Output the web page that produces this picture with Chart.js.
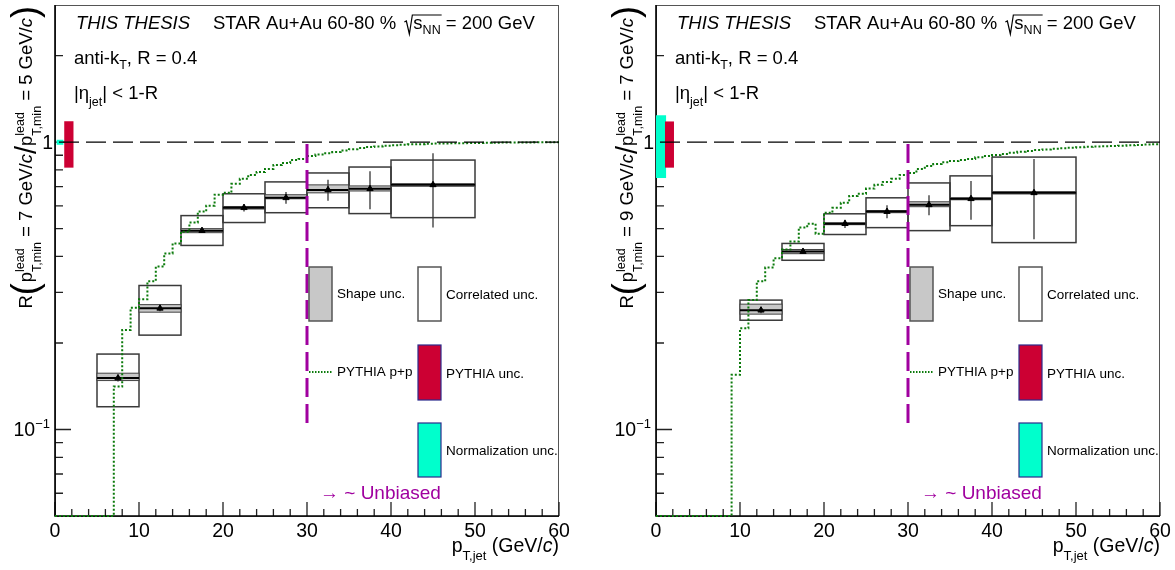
<!DOCTYPE html>
<html>
<head>
<meta charset="utf-8">
<script src="https://cdn.jsdelivr.net/npm/chart.js@4.4.0/dist/chart.umd.min.js"></script>
<style>
  html, body { margin: 0; padding: 0; background: #fff; }
  #wrap { position: relative; width: 1175px; height: 570px; }
  .panel { position: absolute; top: 0; height: 570px; }
</style>
</head>
<body>
<div id="wrap">
  <div class="panel" style="left:0;width:587px"><canvas id="c75" width="587" height="570"></canvas></div>
  <div class="panel" style="left:587px;width:588px"><canvas id="c97" width="588" height="570"></canvas></div>
</div>
<script>
// ---- jet pT bins (GeV/c) ----
const binLow  = [5, 10, 15, 20, 25, 30, 35, 40];
const binHigh = [10, 15, 20, 25, 30, 35, 40, 50];

// ---- R(7 GeV/c / 5 GeV/c) ----
const ratio75   = [0.151, 0.264, 0.492, 0.591, 0.640, 0.682, 0.688, 0.710];
const stat75    = [0.004, 0.006, 0.008, 0.018, 0.030, 0.057, 0.104, 0.205];
const shapeLo75 = [0.148, 0.256, 0.484, 0.585, 0.635, 0.666, 0.676, 0.702];
const shapeHi75 = [0.157, 0.272, 0.500, 0.597, 0.656, 0.710, 0.704, 0.716];
const corrLo75  = [0.120, 0.213, 0.437, 0.525, 0.568, 0.591, 0.564, 0.546];
const corrHi75  = [0.183, 0.317, 0.555, 0.661, 0.727, 0.781, 0.819, 0.866];
const normBand75   = [0.979, 1.019];
const pythiaBand75 = [0.815, 1.182];

// ---- R(9 GeV/c / 7 GeV/c) ----
const ratio97   = [null, 0.260, 0.416, 0.520, 0.573, 0.605, 0.635, 0.666];
const stat97    = [null, 0.006, 0.008, 0.017, 0.030, 0.048, 0.098, 0.207];
const shapeLo97 = [null, 0.252, 0.409, 0.516, 0.568, 0.596, 0.630, 0.660];
const shapeHi97 = [null, 0.273, 0.423, 0.524, 0.578, 0.620, 0.640, 0.672];
const corrLo97  = [null, 0.240, 0.388, 0.477, 0.504, 0.492, 0.512, 0.447];
const corrHi97  = [null, 0.282, 0.444, 0.563, 0.640, 0.721, 0.763, 0.887];
const normBand97   = [0.75, 1.24];
const pythiaBand97 = [0.815, 1.18];

// ---- PYTHIA p+p, 1 GeV/c bins from 0 to 60 ----
const pythia75 = [
  0, 0, 0, 0, 0, 0, 0, 0.141, 0.222, 0.265,
  0.284, 0.328, 0.369, 0.410, 0.444, 0.488, 0.525, 0.573, 0.601, 0.656,
  0.666, 0.716, 0.745, 0.769, 0.787, 0.807, 0.833, 0.846, 0.866, 0.873,
  0.895, 0.905, 0.915, 0.923, 0.935, 0.945, 0.953, 0.961, 0.966, 0.972,
  0.976, 0.980, 0.983, 0.984, 0.986, 0.988, 0.989, 0.990, 0.991, 0.992,
  0.993, 0.994, 0.995, 0.996, 0.996, 0.997, 0.997, 0.998, 0.998, 0.999
];
const pythia97 = [
  0, 0, 0, 0, 0, 0, 0, 0, 0, 0.155,
  0.225, 0.282, 0.328, 0.366, 0.394, 0.423, 0.451, 0.505, 0.520, 0.480,
  0.568, 0.591, 0.615, 0.650, 0.661, 0.689, 0.710, 0.727, 0.745, 0.769,
  0.781, 0.807, 0.825, 0.839, 0.851, 0.860, 0.867, 0.873, 0.885, 0.895,
  0.902, 0.910, 0.918, 0.925, 0.932, 0.938, 0.943, 0.948, 0.952, 0.956,
  0.960, 0.963, 0.966, 0.968, 0.970, 0.972, 0.975, 0.978, 0.981, 0.984
];

// ---- axes ----
const X_MIN = 0, X_MAX = 60;
const Y_MIN = 0.05, Y_MAX = 3;
const xMajorTicks = [0, 10, 20, 30, 40, 50, 60];
const yMajorTicks = [0.1, 1];
const yMinorTicks = [0.06, 0.07, 0.08, 0.09, 0.2, 0.3, 0.4, 0.5, 0.6, 0.7, 0.8, 0.9, 2];
const unbiasedFrom = 30;

const FONT = '"Liberation Sans", Arial, Helvetica, sans-serif';
const GREEN = '#0b7a0b';
const MAGENTA = '#a0009f';

function setFont(ctx, size, italic) {
  ctx.font = (italic ? 'italic ' : '') + size + 'px ' + FONT;
}
function segWidth(ctx, s) {
  if (s.stack) {
    setFont(ctx, s.size);
    return Math.max(...s.stack.map(t => ctx.measureText(t).width));
  }
  setFont(ctx, s.size, s.italic);
  return ctx.measureText(s.t).width;
}
function segsWidth(ctx, segs) {
  return segs.reduce((w, s) => w + segWidth(ctx, s) + (s.gap || 0), 0);
}
function drawSegs(ctx, x, y, segs) {
  for (const s of segs) {
    if (s.stack) {
      setFont(ctx, s.size);
      ctx.fillText(s.stack[0], x, y + s.up);
      ctx.fillText(s.stack[1], x, y + s.down);
    } else {
      setFont(ctx, s.size, s.italic);
      ctx.fillText(s.t, x, y + (s.dy || 0));
    }
    x += segWidth(ctx, s) + (s.gap || 0);
  }
  return x;
}

// histogram bins -> stepped line points (one point per lower edge, plus the last upper edge)
function stepPoints(values) {
  const pts = values.map((v, i) => ({ x: X_MIN + i, y: Math.max(v, Y_MIN) }));
  pts.push({ x: X_MAX, y: Math.max(values[values.length - 1], Y_MIN) });
  return pts;
}

function buildPanel(canvasId, p) {
  const points = [];
  p.ratio.forEach((v, i) => {
    if (v !== null) points.push({ x: (binLow[i] + binHigh[i]) / 2, y: v });
  });

  const rootStyle = {
    id: 'rootStyle',
    beforeDatasetsDraw(chart) {
      const ctx = chart.ctx, xs = chart.scales.x, ys = chart.scales.y;
      const ca = chart.chartArea;
      ctx.save();
      // frame
      ctx.strokeStyle = '#555'; ctx.lineWidth = 1;
      ctx.strokeRect(ca.left + 0.5, ca.top + 0.5, ca.right - ca.left - 1, ca.bottom - ca.top);
      // ticks (pointing inwards)
      ctx.strokeStyle = '#222'; ctx.lineWidth = 1.3;
      ctx.beginPath();
      for (let v = X_MIN; v <= X_MAX; v += 2) {
        const x = xs.getPixelForValue(v);
        const len = xMajorTicks.includes(v) ? 14 : 7;
        ctx.moveTo(x, ca.bottom); ctx.lineTo(x, ca.bottom - len);
      }
      for (const v of yMajorTicks) {
        const y = ys.getPixelForValue(v);
        ctx.moveTo(ca.left, y); ctx.lineTo(ca.left + 16, y);
      }
      for (const v of yMinorTicks) {
        const y = ys.getPixelForValue(v);
        ctx.moveTo(ca.left, y); ctx.lineTo(ca.left + 8, y);
      }
      ctx.stroke();
      // axis lines
      ctx.strokeStyle = '#000'; ctx.lineWidth = 1.6;
      ctx.beginPath();
      ctx.moveTo(ca.left, ca.top); ctx.lineTo(ca.left, ca.bottom); ctx.lineTo(ca.right, ca.bottom);
      ctx.stroke();

      for (let i = 0; i < binLow.length; i++) {
        if (p.ratio[i] === null) continue;
        const x0 = xs.getPixelForValue(binLow[i]);
        const x1 = xs.getPixelForValue(binHigh[i]);
        // correlated uncertainty box
        const cy0 = ys.getPixelForValue(p.corrHi[i]);
        const cy1 = ys.getPixelForValue(p.corrLo[i]);
        ctx.strokeStyle = '#3a3a3a';
        ctx.lineWidth = 1.5;
        ctx.strokeRect(x0, cy0, x1 - x0, cy1 - cy0);
        // shape uncertainty band
        const sy0 = ys.getPixelForValue(p.shapeHi[i]);
        const sy1 = ys.getPixelForValue(p.shapeLo[i]);
        ctx.fillStyle = '#c8c8c8';
        ctx.fillRect(x0, sy0, x1 - x0, sy1 - sy0);
        ctx.strokeStyle = '#444';
        ctx.lineWidth = 1;
        ctx.strokeRect(x0, sy0, x1 - x0, sy1 - sy0);
        // bin width at the central value
        const yc = ys.getPixelForValue(p.ratio[i]);
        ctx.strokeStyle = '#000';
        ctx.lineWidth = 2;
        ctx.beginPath(); ctx.moveTo(x0, yc); ctx.lineTo(x1, yc); ctx.stroke();
        // statistical error
        const xc = xs.getPixelForValue((binLow[i] + binHigh[i]) / 2);
        ctx.strokeStyle = '#333';
        ctx.lineWidth = 1.3;
        ctx.beginPath();
        ctx.moveTo(xc, ys.getPixelForValue(p.ratio[i] + p.stat[i]));
        ctx.lineTo(xc, ys.getPixelForValue(p.ratio[i] - p.stat[i]));
        ctx.stroke();
      }
      ctx.restore();
    },
    afterDatasetsDraw(chart) {
      const ctx = chart.ctx, xs = chart.scales.x, ys = chart.scales.y;
      const ca = chart.chartArea;
      ctx.save();
      // normalization and PYTHIA uncertainty at unity
      ctx.fillStyle = '#00ffcc';
      let bx0 = xs.getPixelForValue(p.normX[0]), bx1 = xs.getPixelForValue(p.normX[1]);
      let by0 = ys.getPixelForValue(p.normBand[1]), by1 = ys.getPixelForValue(p.normBand[0]);
      ctx.fillRect(bx0, by0, bx1 - bx0, by1 - by0);
      ctx.fillStyle = '#cc0033';
      bx0 = xs.getPixelForValue(p.pyX[0]); bx1 = xs.getPixelForValue(p.pyX[1]);
      by0 = ys.getPixelForValue(p.pythiaBand[1]); by1 = ys.getPixelForValue(p.pythiaBand[0]);
      ctx.fillRect(bx0, by0, bx1 - bx0, by1 - by0);

      // unity reference
      const y1 = ys.getPixelForValue(1);
      ctx.strokeStyle = '#000';
      ctx.lineWidth = 1.3;
      ctx.setLineDash([20, 7]);
      ctx.lineDashOffset = -4;
      ctx.beginPath(); ctx.moveTo(xs.getPixelForValue(X_MIN), y1); ctx.lineTo(xs.getPixelForValue(X_MAX), y1); ctx.stroke();

      // unbiased threshold
      const xu = xs.getPixelForValue(unbiasedFrom);
      ctx.strokeStyle = MAGENTA;
      ctx.lineWidth = 3;
      ctx.setLineDash([19, 7]);
      ctx.lineDashOffset = 0;
      ctx.beginPath(); ctx.moveTo(xu, y1 + 2); ctx.lineTo(xu, ys.getPixelForValue(0.1)); ctx.stroke();
      ctx.setLineDash([]);

      // legend
      const L = ca.left, T = ca.top;
      ctx.fillStyle = '#c8c8c8';
      ctx.fillRect(L + 254, T + 262, 23, 54);
      ctx.strokeStyle = '#555'; ctx.lineWidth = 1.5;
      ctx.strokeRect(L + 254, T + 262, 23, 54);
      ctx.strokeRect(L + 363, T + 262, 23, 54);
      ctx.fillStyle = '#cc0033';
      ctx.fillRect(L + 363, T + 340, 23, 55);
      ctx.fillStyle = '#00ffcc';
      ctx.fillRect(L + 363, T + 418, 23, 54);
      ctx.strokeStyle = '#2b2b8c'; ctx.lineWidth = 1.2;
      ctx.strokeRect(L + 363, T + 340, 23, 55);
      ctx.strokeRect(L + 363, T + 418, 23, 54);
      ctx.strokeStyle = GREEN; ctx.lineWidth = 2;
      ctx.setLineDash([1.5, 1.5]);
      ctx.beginPath(); ctx.moveTo(L + 254, T + 367); ctx.lineTo(L + 277, T + 367); ctx.stroke();
      ctx.setLineDash([]);

      ctx.fillStyle = '#000';
      ctx.textBaseline = 'middle';
      setFont(ctx, 13.5);
      ctx.fillText('Shape unc.', L + 282, T + 289);
      ctx.fillText('Correlated unc.', L + 391, T + 290);
      ctx.fillText('PYTHIA p+p', L + 282, T + 367);
      ctx.fillText('PYTHIA unc.', L + 391, T + 369);
      ctx.fillText('Normalization unc.', L + 391, T + 446);
      ctx.fillStyle = MAGENTA;
      setFont(ctx, 19);
      ctx.fillText('\u2192 ~ Unbiased', L + 265, T + 489);
      ctx.restore();
    },
    afterDraw(chart) {
      const ctx = chart.ctx, xs = chart.scales.x, ys = chart.scales.y;
      const ca = chart.chartArea;
      ctx.save();
      ctx.fillStyle = '#000';
      ctx.textBaseline = 'alphabetic';
      // x tick labels
      setFont(ctx, 19.5);
      ctx.textAlign = 'center';
      for (const v of xMajorTicks) {
        ctx.fillText(String(v), xs.getPixelForValue(v), ca.bottom + 21);
      }
      // y tick labels
      ctx.textAlign = 'left';
      const y1 = ys.getPixelForValue(1);
      setFont(ctx, 19.5);
      ctx.fillText('1', ca.left - 2 - ctx.measureText('1').width, y1 + 7);
      const yd = ys.getPixelForValue(0.1);
      const decade = [{ t: '10', size: 19.5 }, { t: '\u22121', size: 13, dy: -8 }];
      drawSegs(ctx, ca.left - 5 - segsWidth(ctx, decade), yd + 7, decade);

      // x axis title
      const xTitle = [
        { t: 'p', size: 19.5 }, { t: 'T,jet', size: 13, dy: 8 },
        { t: ' (GeV/', size: 19.5 }, { t: 'c', size: 19.5, italic: true }, { t: ')', size: 19.5 }
      ];
      drawSegs(ctx, ca.right - segsWidth(ctx, xTitle), ca.bottom + 36, xTitle);

      // y axis title (rotated)
      const stack = { stack: ['lead', 'T,min'], size: 12.5, up: -8, down: 9 };
      const yTitle = [
        { t: 'R', size: 18.5 },
        { t: '(', size: 36, dy: 5, gap: 1 },
        { t: 'p', size: 18.5 }, stack,
        { t: ' = ' + p.num + ' GeV/', size: 18.5 }, { t: 'c', size: 18.5, italic: true },
        { t: '/', size: 29, dy: 4 },
        { t: 'p', size: 18.5 }, stack,
        { t: ' = ' + p.den + ' GeV/', size: 18.5 }, { t: 'c', size: 18.5, italic: true },
        { t: ')', size: 36, dy: 5 }
      ];
      const tw = segsWidth(ctx, yTitle);
      ctx.save();
      ctx.translate(ca.left - 23, ca.top + 1 + tw);
      ctx.rotate(-Math.PI / 2);
      drawSegs(ctx, 0, 0, yTitle);
      ctx.restore();

      // header
      const hy = ca.top + 24;
      setFont(ctx, 18.5, true);
      ctx.fillText('THIS THESIS', ca.left + 21, hy);
      let hx = drawSegs(ctx, ca.left + 158, hy, [{ t: 'STAR Au+Au 60-80 % ', size: 18.5 }]);
      const sx = hx + 3;
      hx = drawSegs(ctx, sx + 9, hy, [{ t: 's', size: 18.5 }, { t: 'NN', size: 12.5, dy: 5 }]);
      ctx.strokeStyle = '#000'; ctx.lineWidth = 1.2;
      ctx.beginPath();
      ctx.moveTo(sx, hy - 7); ctx.lineTo(sx + 2, hy - 8); ctx.lineTo(sx + 5, hy + 5);
      ctx.lineTo(sx + 8, hy - 14); ctx.lineTo(hx + 1, hy - 14);
      ctx.stroke();
      drawSegs(ctx, hx, hy, [{ t: ' = 200 GeV', size: 18.5 }]);

      drawSegs(ctx, ca.left + 19, ca.top + 59, [
        { t: 'anti-k', size: 18.5 }, { t: 'T', size: 12.5, dy: 5 }, { t: ', R = 0.4', size: 18.5 }
      ]);
      drawSegs(ctx, ca.left + 19, ca.top + 94, [
        { t: '|\u03B7', size: 18.5 }, { t: 'jet', size: 12.5, dy: 7 }, { t: '| < 1-R', size: 18.5 }
      ]);
      ctx.restore();
    }
  };

  return new Chart(document.getElementById(canvasId), {
    type: 'scatter',
    data: {
      datasets: [
        {
          type: 'line',
          label: 'PYTHIA p+p',
          data: stepPoints(p.pythia),
          stepped: 'before',
          borderColor: GREEN,
          borderWidth: 2,
          borderDash: [2, 2],
          pointRadius: 0,
          fill: false,
          clip: false,
          order: 2
        },
        {
          label: 'Au+Au 60-80 %',
          data: points,
          pointStyle: 'triangle',
          pointRadius: 3.6,
          backgroundColor: '#000',
          borderColor: '#000',
          borderWidth: 1,
          order: 1
        }
      ]
    },
    options: {
      animation: false,
      responsive: false,
      devicePixelRatio: 1,
      layout: { padding: p.padding },
      scales: {
        x: { type: 'linear', min: X_MIN, max: X_MAX, display: false },
        y: { type: 'logarithmic', min: Y_MIN, max: Y_MAX, display: false }
      },
      plugins: { legend: { display: false }, tooltip: { enabled: false } }
    },
    plugins: [rootStyle]
  });
}

buildPanel('c75', {
  ratio: ratio75, stat: stat75, shapeLo: shapeLo75, shapeHi: shapeHi75,
  corrLo: corrLo75, corrHi: corrHi75, pythia: pythia75,
  normBand: normBand75, pythiaBand: pythiaBand75,
  normX: [0.2, 1.0], pyX: [1.1, 2.2],
  num: '7', den: '5',
  padding: { left: 55, right: 28, top: 3, bottom: 54 }
});
buildPanel('c97', {
  ratio: ratio97, stat: stat97, shapeLo: shapeLo97, shapeHi: shapeHi97,
  corrLo: corrLo97, corrHi: corrHi97, pythia: pythia97,
  normBand: normBand97, pythiaBand: pythiaBand97,
  normX: [0, 1.2], pyX: [1.07, 2.14],
  num: '9', den: '7',
  padding: { left: 69, right: 15, top: 3, bottom: 54 }
});
</script>
</body>
</html>
